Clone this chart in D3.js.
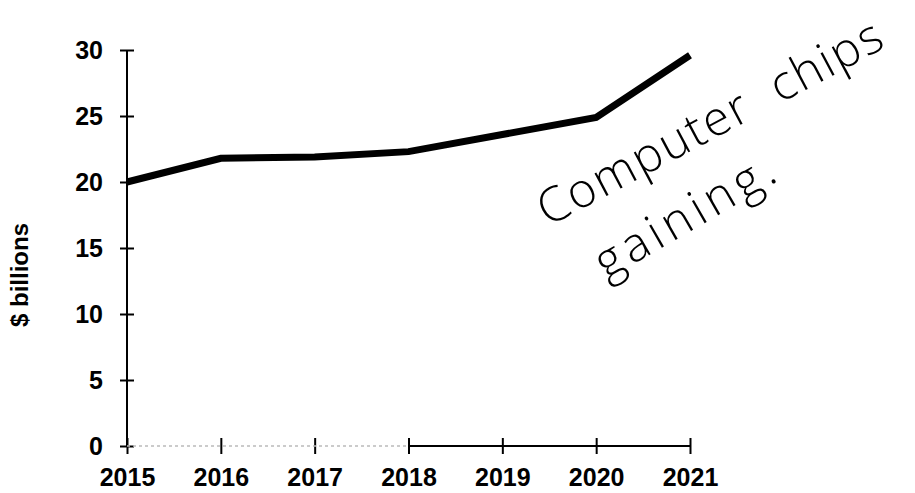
<!DOCTYPE html>
<html>
<head>
<meta charset="utf-8">
<script src="https://cdn.jsdelivr.net/npm/d3@7"></script>
<style>
  body { margin: 0; background: #fff; }
  svg { display: block; }
  .tick text { font-family: "Liberation Sans", Arial, sans-serif; font-weight: bold; fill: #000; }
</style>
</head>
<body>
<svg id="chart"></svg>
<script>
const width = 915,
      height = 493;

const years = [2015, 2016, 2017, 2018, 2019, 2020, 2021];
const values = [20.0, 21.8, 21.9, 22.3, 23.6, 24.9, 29.6];
const yTicks = [0, 5, 10, 15, 20, 25, 30];

const margin = {top: 50, right: 225, bottom: 47, left: 127};

const svg = d3.select("#chart")
  .attr("width", width)
  .attr("height", height);

const x = d3.scaleLinear()
  .domain([2015, 2021])
  .range([margin.left, width - margin.right]);

const y = d3.scaleLinear()
  .domain([0, 30])
  .range([height - margin.bottom, margin.top]);

// y axis, ticks cross the line
const yAxis = svg.append("g")
  .attr("transform", `translate(${margin.left},0)`)
  .call(d3.axisLeft(y).tickValues(yTicks).tickSize(7).tickPadding(17));
yAxis.select(".domain").remove();
yAxis.selectAll(".tick line")
  .attr("x1", -7).attr("x2", 7)
  .attr("stroke", "#000").attr("stroke-width", 2);
yAxis.selectAll(".tick text").attr("font-size", 25);

svg.append("line")
  .attr("x1", margin.left).attr("x2", margin.left)
  .attr("y1", y(30)).attr("y2", y(0))
  .attr("stroke", "#000").attr("stroke-width", 2);

// x axis
const xAxis = svg.append("g")
  .attr("transform", `translate(0,${y(0)})`)
  .call(d3.axisBottom(x).tickValues(years).tickFormat(d3.format("d")).tickSize(8).tickPadding(14));
xAxis.select(".domain").remove();
xAxis.selectAll(".tick line")
  .attr("y1", -8).attr("y2", 8)
  .attr("stroke", "#000").attr("stroke-width", 2);
xAxis.selectAll(".tick text").attr("font-size", 25);

// the scan left the first part of the baseline faint
svg.append("line")
  .attr("x1", x(2015)).attr("x2", x(2018))
  .attr("y1", y(0)).attr("y2", y(0))
  .attr("stroke", "#bbb").attr("stroke-width", 1.5)
  .attr("stroke-dasharray", "3,3");
svg.append("line")
  .attr("x1", x(2018)).attr("x2", x(2021))
  .attr("y1", y(0)).attr("y2", y(0))
  .attr("stroke", "#000").attr("stroke-width", 2);

svg.append("text")
  .attr("transform", `translate(28,${(y(0) + y(30)) / 2 + 27}) rotate(-90)`)
  .attr("text-anchor", "middle")
  .attr("font-family", "Liberation Sans, Arial, sans-serif")
  .attr("font-weight", "bold")
  .attr("font-size", 24)
  .text("$ billions");

const line = d3.line()
  .x((d, i) => x(years[i]))
  .y(d => y(d));

svg.append("path")
  .datum(values)
  .attr("fill", "none")
  .attr("stroke", "#000")
  .attr("stroke-width", 7)
  .attr("stroke-linejoin", "miter")
  .attr("d", line);

// handwritten note
const note = svg.append("g")
  .attr("font-family", "'Open Sans', 'DejaVu Sans', sans-serif")
  .attr("font-weight", 300)
  .attr("fill", "#000");

note.append("text")
  .attr("transform", "translate(548,227) rotate(-28)")
  .attr("font-size", 48)
  .attr("letter-spacing", 2)
  .attr("word-spacing", 14)
  .text("Computer chips");

note.append("text")
  .attr("transform", "translate(606,280) rotate(-30)")
  .attr("font-size", 48)
  .attr("letter-spacing", 5)
  .text("gaining.");
</script>
</body>
</html>
